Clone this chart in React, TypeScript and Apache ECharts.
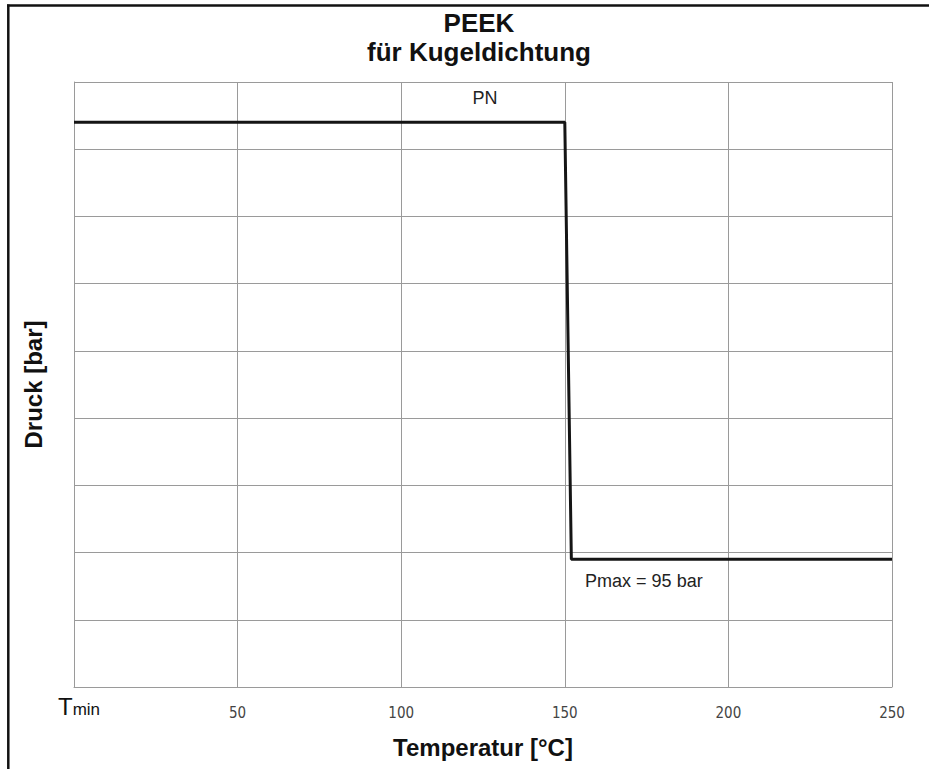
import React, { useEffect, useRef } from "react";
import * as echarts from "echarts";

// Temperature (°C) / pressure (bar) points of the limit curve
const temperatures = [0, 150, 152, 250];
const pressures = [420, 420, 95, 95];

const xTicks = [0, 50, 100, 150, 200, 250];
const titleLines = ["PEEK", "für Kugeldichtung"];
const xName = "Temperatur [°C]";
const yName = "Druck [bar]";

// Annotations: [temperature, pressure, text]
const pnLabel: [number, number, string] = [125.6, 438, "PN"];
const pmaxLabel: [number, number, string] = [156.2, 79, "Pmax = 95 bar"];

export default function App() {
  const ref = useRef<HTMLDivElement>(null);

  useEffect(() => {
    if (!ref.current) return;
    const chart = echarts.init(ref.current, null, { renderer: "svg" });
    const gridColor = "#9a9a9a";
    const option: any = {
      animation: false,
      backgroundColor: "#ffffff",
      grid: { left: 74, right: 37, top: 82, bottom: 82, containLabel: false },
      xAxis: {
        type: "value",
        min: 0,
        max: 250,
        interval: 50,
        name: xName,
        nameLocation: "middle",
        nameGap: 48,
        nameTextStyle: {
          fontFamily: "Liberation Sans, Arial, sans-serif",
          fontWeight: "bold",
          fontSize: 24,
          color: "#111",
        },
        axisLine: { show: true, lineStyle: { color: gridColor, width: 1 } },
        axisTick: { show: false },
        splitLine: { show: true, lineStyle: { color: gridColor, width: 1 } },
        axisLabel: {
          margin: 7,
          formatter: (v: number) =>
            v === xTicks[0] ? "{T|T}{sub|min}" : "{n|" + v + "}",
          rich: {
            T: {
              fontFamily: "Liberation Sans, Arial, sans-serif",
              fontSize: 24,
              lineHeight: 24,
              color: "#111",
              padding: [0, 0, 0, 10],
            },
            sub: {
              fontFamily: "Liberation Sans, Arial, sans-serif",
              fontSize: 17,
              lineHeight: 14,
              color: "#111",
              verticalAlign: "bottom",
            },
            n: {
              fontFamily: "DejaVu Sans Condensed, DejaVu Sans, sans-serif",
              fontSize: 15,
              lineHeight: 38,
              color: "#444",
            },
          },
        },
      },
      yAxis: {
        type: "value",
        min: 0,
        max: 450,
        interval: 50,
        name: yName,
        nameLocation: "middle",
        nameGap: 29,
        nameTextStyle: {
          fontFamily: "Liberation Sans, Arial, sans-serif",
          fontWeight: "bold",
          fontSize: 24,
          color: "#111",
        },
        axisLine: { show: true, lineStyle: { color: gridColor, width: 1 } },
        axisTick: { show: false },
        axisLabel: { show: false },
        splitLine: { show: true, lineStyle: { color: gridColor, width: 1 } },
      },
      graphic: [
        {
          type: "line",
          shape: { x1: 8.3, y1: 4.5, x2: 8.3, y2: 769 },
          style: { stroke: "#111", lineWidth: 2.5 },
          silent: true,
        },
        {
          type: "line",
          shape: { x1: 7, y1: 5.5, x2: 929, y2: 5.5 },
          style: { stroke: "#111", lineWidth: 2.5 },
          silent: true,
        },
        {
          type: "text",
          x: 479,
          y: 22.5,
          style: {
            text: titleLines[0],
            font: "bold 26px 'Liberation Sans', Arial, sans-serif",
            fill: "#111",
            align: "center",
            verticalAlign: "middle",
          },
        },
        {
          type: "text",
          x: 479,
          y: 51.5,
          style: {
            text: titleLines[1],
            font: "bold 26px 'Liberation Sans', Arial, sans-serif",
            fill: "#111",
            align: "center",
            verticalAlign: "middle",
          },
        },
      ],
      series: [
        {
          type: "line",
          data: temperatures.map((t, i) => [t, pressures[i]]),
          showSymbol: false,
          symbol: "none",
          lineStyle: { color: "#151515", width: 3 },
          z: 5,
          markPoint: {
            symbol: "circle",
            symbolSize: 0,
            silent: true,
            data: [
              {
                coord: [pnLabel[0], pnLabel[1]],
                label: {
                  show: true,
                  position: "inside",
                  formatter: pnLabel[2],
                  align: "center",
                  verticalAlign: "middle",
                  fontFamily: "Liberation Sans, Arial, sans-serif",
                  fontSize: 18,
                  color: "#222",
                },
              },
              {
                coord: [pmaxLabel[0], pmaxLabel[1]],
                label: {
                  show: true,
                  position: "inside",
                  formatter: pmaxLabel[2],
                  align: "left",
                  verticalAlign: "middle",
                  fontFamily: "Liberation Sans, Arial, sans-serif",
                  fontSize: 18,
                  color: "#222",
                },
              },
            ],
          },
        },
      ],
    };
    chart.setOption(option);
    return () => chart.dispose();
  }, []);

  return (
    <div
      ref={ref}
      style={{ position: "absolute", left: 0, top: 0, width: 929, height: 769, background: "#fff" }}
    />
  );
}
